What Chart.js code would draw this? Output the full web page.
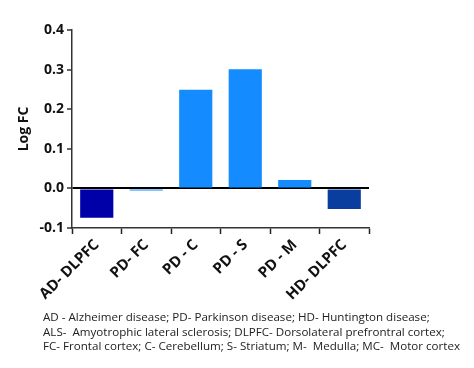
<!DOCTYPE html>
<html>
<head>
<meta charset="utf-8">
<script src="https://cdn.jsdelivr.net/npm/chart.js@4.4.1/dist/chart.umd.min.js"></script>
<style>
  html, body { margin: 0; padding: 0; background: #fff; }
  #wrap { position: relative; width: 474px; height: 368px; }
  #c { position: absolute; left: 0; top: 0; }
  #note { position: absolute; left: 43px; top: 310px; font-family: "Open Sans", sans-serif; font-size: 11.6px; line-height: 14.5px; color: #222; white-space: nowrap; }
</style>
</head>
<body>
<div id="wrap">
  <canvas id="c" width="474" height="368"></canvas>
  <div id="note">AD - Alzheimer disease; PD- Parkinson disease; HD- Huntington disease;<br>ALS-&nbsp; Amyotrophic lateral sclerosis; DLPFC- Dorsolateral prefrontral cortex;<br>FC- Frontal cortex; C- Cerebellum; S- Striatum; M-&nbsp; Medulla; MC-&nbsp; Motor cortex</div>
</div>
<script>
const categories = ["AD- DLPFC", "PD- FC", "PD - C", "PD - S", "PD - M", "HD- DLPFC"];
const logFC = [-0.074, -0.005, 0.249, 0.301, 0.021, -0.052];
const barColors = ["#0000A8", "#148CFF", "#148CFF", "#148CFF", "#148CFF", "#0A3E9E"];
const yTicks = [-0.1, 0.0, 0.1, 0.2, 0.3, 0.4];

new Chart(document.getElementById('c'), {
  type: 'bar',
  data: {
    labels: categories,
    datasets: [{
      data: logFC,
      backgroundColor: barColors,
      borderWidth: 0,
      barPercentage: 0.67,
      categoryPercentage: 1.0
    }]
  },
  options: {
    responsive: false,
    animation: false,
    layout: { padding: { left: 0, top: 30, right: 105, bottom: 0 } },
    plugins: { legend: { display: false }, tooltip: { enabled: false } },
    scales: {
      x: {
        afterFit: s => { s.height = 140; },
        grid: { display: true, drawOnChartArea: false, color: '#000', tickColor: '#222', tickLength: 6, tickWidth: 1.5 },
        border: { display: true, color: '#333', width: 1.5 },
        ticks: {
          minRotation: 45, maxRotation: 45, autoSkip: false, padding: 2,
          color: '#111', font: { family: '"Open Sans", sans-serif', size: 15, weight: 'bold' }
        }
      },
      y: {
        min: -0.1, max: 0.4,
        afterFit: s => { s.width = 72; },
        afterBuildTicks: s => { s.ticks = yTicks.map(v => ({ value: v })); },
        grid: {
          drawOnChartArea: true,
          color: ctx => (ctx.tick && Math.abs(ctx.tick.value) < 1e-9) ? '#000' : 'rgba(0,0,0,0)',
          lineWidth: 2,
          tickColor: '#333', tickLength: 5, tickWidth: 1.5
        },
        border: { display: true, color: '#333', width: 1.5 },
        ticks: {
          padding: 3, color: '#111',
          font: { family: '"Open Sans", sans-serif', size: 14, weight: 'bold' },
          callback: v => Number(v).toFixed(1)
        },
        title: {
          display: true, text: 'Log FC', color: '#111',
          font: { family: '"Open Sans", sans-serif', size: 14, weight: 'bold' },
          padding: { top: 16, bottom: 0 }
        }
      }
    }
  }
});
</script>
</body>
</html>
